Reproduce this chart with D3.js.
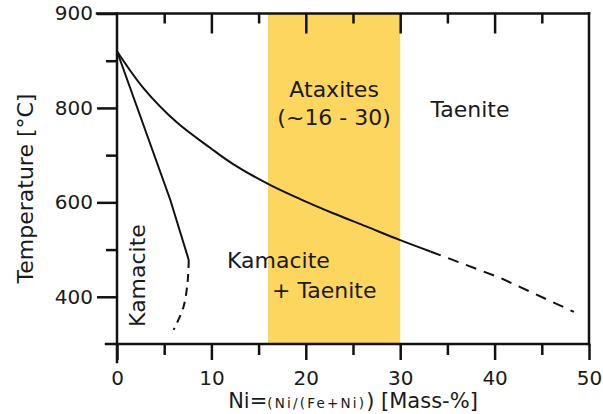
<!DOCTYPE html>
<html>
<head>
<meta charset="utf-8">
<script src="https://cdn.jsdelivr.net/npm/d3@7"></script>
<style>
  body { margin: 0; background: #fff; }
  text { font-family: "DejaVu Sans", sans-serif; fill: #1a1a1a; }
</style>
</head>
<body>
<svg id="chart" width="603" height="414"></svg>
<script>
// tick values
var niTicks = [0, 10, 20, 30, 40, 50];
var niMinor = [5, 15, 25, 35, 45];
var tempTicks = [900, 800, 600, 400];
var tempMinor = [850, 700, 500];

// ataxite band (Ni mass-%)
var ataxiteRange = [16, 30];

// phase boundaries [Ni %, temperature °C]
var taeniteSolid = [[0, 860], [2.8, 821], [6.3, 770], [9.9, 715], [12.3, 681], [16.2, 637], [19.4, 607], [22.9, 577], [26.4, 549], [30, 520], [33.2, 496]];
var taeniteDashed = [[33.2, 496], [40.6, 440], [48.4, 368]];
var kamaciteSolid = [[0, 860], [5.65, 605], [7.6, 478]];
var kamaciteDashed = [[7.6, 478], [7.5, 436], [7.05, 379], [6.0, 330]];

var svg = d3.select("#chart"),
    pLeft = 117, pRight = 589, pTop = 13.5, pBottom = 344,
    step = (pBottom - pTop) / 3.5;

var x = d3.scaleLinear()
    .domain([0, 50])
    .range([pLeft, pRight]);

// the printed temperature axis is not evenly spaced, so the scale is piecewise
var y = d3.scaleLinear()
    .domain([300, 400, 600, 800, 900])
    .range([pBottom, pBottom - step * 0.5, pBottom - step * 1.5, pBottom - step * 2.5, pTop]);

// ataxites band
svg.append("rect")
    .attr("x", x(ataxiteRange[0]))
    .attr("y", pTop)
    .attr("width", x(ataxiteRange[1]) - x(ataxiteRange[0]))
    .attr("height", pBottom - pTop)
    .attr("fill", "#fdd660");

// curves
var line = d3.line()
    .x(function(d) { return x(d[0]); })
    .y(function(d) { return y(d[1]); });

function curve(data, type, dash) {
  svg.append("path")
      .datum(data)
      .attr("fill", "none")
      .attr("stroke", "#111")
      .attr("stroke-width", 2)
      .attr("stroke-dasharray", dash)
      .attr("d", line.curve(type));
}
curve(taeniteSolid, d3.curveCatmullRom, null);
curve(taeniteDashed, d3.curveLinear, "11,8");
curve(kamaciteSolid, d3.curveLinear, null);
curve(kamaciteDashed, d3.curveCatmullRom, "8,6");

// axes
function axis(gen, tx, ty, values, size, pad, fmt) {
  var g = svg.append("g")
      .attr("transform", "translate(" + tx + "," + ty + ")")
      .call(gen.tickValues(values).tickSize(size).tickPadding(pad).tickFormat(fmt));
  g.select(".domain").remove();
  g.selectAll("line").attr("stroke", "#111").attr("stroke-width", 2.5);
  g.selectAll("text").attr("font-size", 20).attr("fill", "#1a1a1a")
      .attr("font-family", "DejaVu Sans, sans-serif");
  return g;
}
axis(d3.axisLeft(y), pLeft, 0, tempTicks, 20, 4, d3.format("d"));
axis(d3.axisLeft(y), pLeft, 0, tempMinor, 11, 4, function() { return ""; });
axis(d3.axisBottom(x), 0, pBottom, niTicks, 16, 11, d3.format("d"));
axis(d3.axisBottom(x), 0, pBottom, niMinor, 11, 4, function() { return ""; });
axis(d3.axisBottom(x), 0, pTop, niTicks.slice(1, -1), 20, 4, function() { return ""; });
axis(d3.axisBottom(x), 0, pTop, niMinor, 10, 4, function() { return ""; });

// frame
var frame = [
  [pLeft, pTop, pLeft, pBottom + 18],
  [pLeft - 11, pBottom, pRight, pBottom],
  [pLeft - 20, pTop, pRight, pTop],
  [pRight, pTop, pRight, pBottom]
];
svg.selectAll(".frame")
  .data(frame)
  .enter().append("line")
    .attr("x1", function(d) { return d[0]; })
    .attr("y1", function(d) { return d[1]; })
    .attr("x2", function(d) { return d[2]; })
    .attr("y2", function(d) { return d[3]; })
    .attr("stroke", "#111")
    .attr("stroke-width", 2.5)
    .attr("stroke-linecap", "square");

// axis titles
svg.append("text")
    .attr("transform", "translate(33,188.5) rotate(-90)")
    .attr("text-anchor", "middle")
    .attr("font-size", 22)
    .text("Temperature [°C]");

var xt = svg.append("text")
    .attr("x", x(25))
    .attr("y", 408)
    .attr("text-anchor", "middle")
    .attr("font-size", 21);
xt.append("tspan").text("Ni=");
xt.append("tspan").attr("font-size", 13.5).attr("letter-spacing", 2.2).text("(Ni/(Fe+Ni)");
xt.append("tspan").text(") [Mass-%]");

// region labels
function label(txt, tx, ty, anchor) {
  svg.append("text")
      .attr("x", tx).attr("y", ty)
      .attr("text-anchor", anchor)
      .attr("font-size", 22)
      .text(txt);
}
label("Ataxites", x(23), 97, "middle");
label("(~16 - 30)", x(23), 125, "middle");
label("Taenite", 470, 117, "middle");
label("Kamacite", 227, 268, "start");
label("+ Taenite", 272, 298, "start");

svg.append("text")
    .attr("transform", "translate(145,275.5) rotate(-90)")
    .attr("text-anchor", "middle")
    .attr("font-size", 22)
    .text("Kamacite");
</script>
</body>
</html>
